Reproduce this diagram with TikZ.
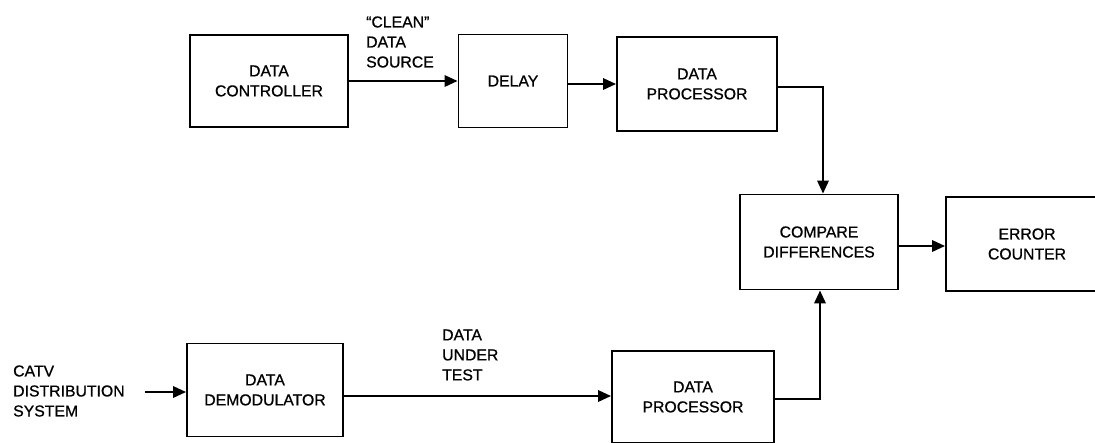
\documentclass[tikz,border=0pt]{standalone}
\usepackage{fontspec}
\setmainfont{Liberation Sans}[BoldFont={Liberation Sans},BoldFeatures={FakeBold=0.8}]
\usetikzlibrary{arrows.meta}
\begin{document}
\begin{tikzpicture}[x=1pt,y=-1pt,
  box/.style={draw,line width=1.6pt,align=center,inner sep=0pt,
              font=\fontsize{15.8}{20}\selectfont\bfseries},
  lbl/.style={align=left,inner sep=0pt,anchor=west,
              font=\fontsize{15.8}{20}\selectfont\bfseries},
  flow/.style={line width=2.8pt,-{Triangle[length=13pt,width=11pt]}}]
\useasboundingbox (0,0) rectangle (1095,442);
\clip (0,0) rectangle (1095,442);

% blocks
\node[box,minimum width=158pt,minimum height=92pt] (ctrl)  at (269,81)  {DATA\\CONTROLLER};
\node[box,minimum width=109pt,minimum height=93pt] (delay) at (513,81)  {DELAY};
\node[box,minimum width=160pt,minimum height=94pt] (proc1) at (697,84)  {DATA\\PROCESSOR};
\node[box,minimum width=158pt,minimum height=95pt] (cmp)   at (819,242) {COMPARE\\DIFFERENCES};
\node[box,minimum width=162pt,minimum height=94pt] (err)   at (1027,244) {ERROR\\COUNTER};
\node[box,minimum width=156pt,minimum height=93pt] (demod) at (265,390) {DATA\\DEMODULATOR};
\node[box,minimum width=162pt,minimum height=92pt] (proc2) at (693,397) {DATA\\PROCESSOR};

% signal labels
\node[lbl] (clean) at (366,42)  {“CLEAN”\\DATA\\SOURCE};
\node[lbl] (dut)   at (442,355) {DATA\\UNDER\\TEST};
\node[lbl] (catv)  at (13,391)  {CATV\\DISTRIBUTION\\SYSTEM};
\coordinate (in) at (145,392);

% signal flow
\draw[flow] (ctrl.east) -- (ctrl.east -| delay.west);
\draw[flow] ([yshift=-3pt]delay.east) -- ([yshift=-3pt]delay.east -| proc1.west);
\draw[flow] ([yshift=-3pt]proc1.east) -| ([xshift=4pt]cmp.north);
\draw[flow] ([yshift=-4pt]cmp.east) -- ([yshift=-4pt]cmp.east -| err.west);
\draw[flow] ([yshift=-2pt]proc2.east) -| ([xshift=1pt]cmp.south);
\draw[flow] ([yshift=-6pt]demod.east) -- ([yshift=-6pt]demod.east -| proc2.west);
\draw[flow] (in) -- (in -| demod.west);
\end{tikzpicture}
\end{document}
